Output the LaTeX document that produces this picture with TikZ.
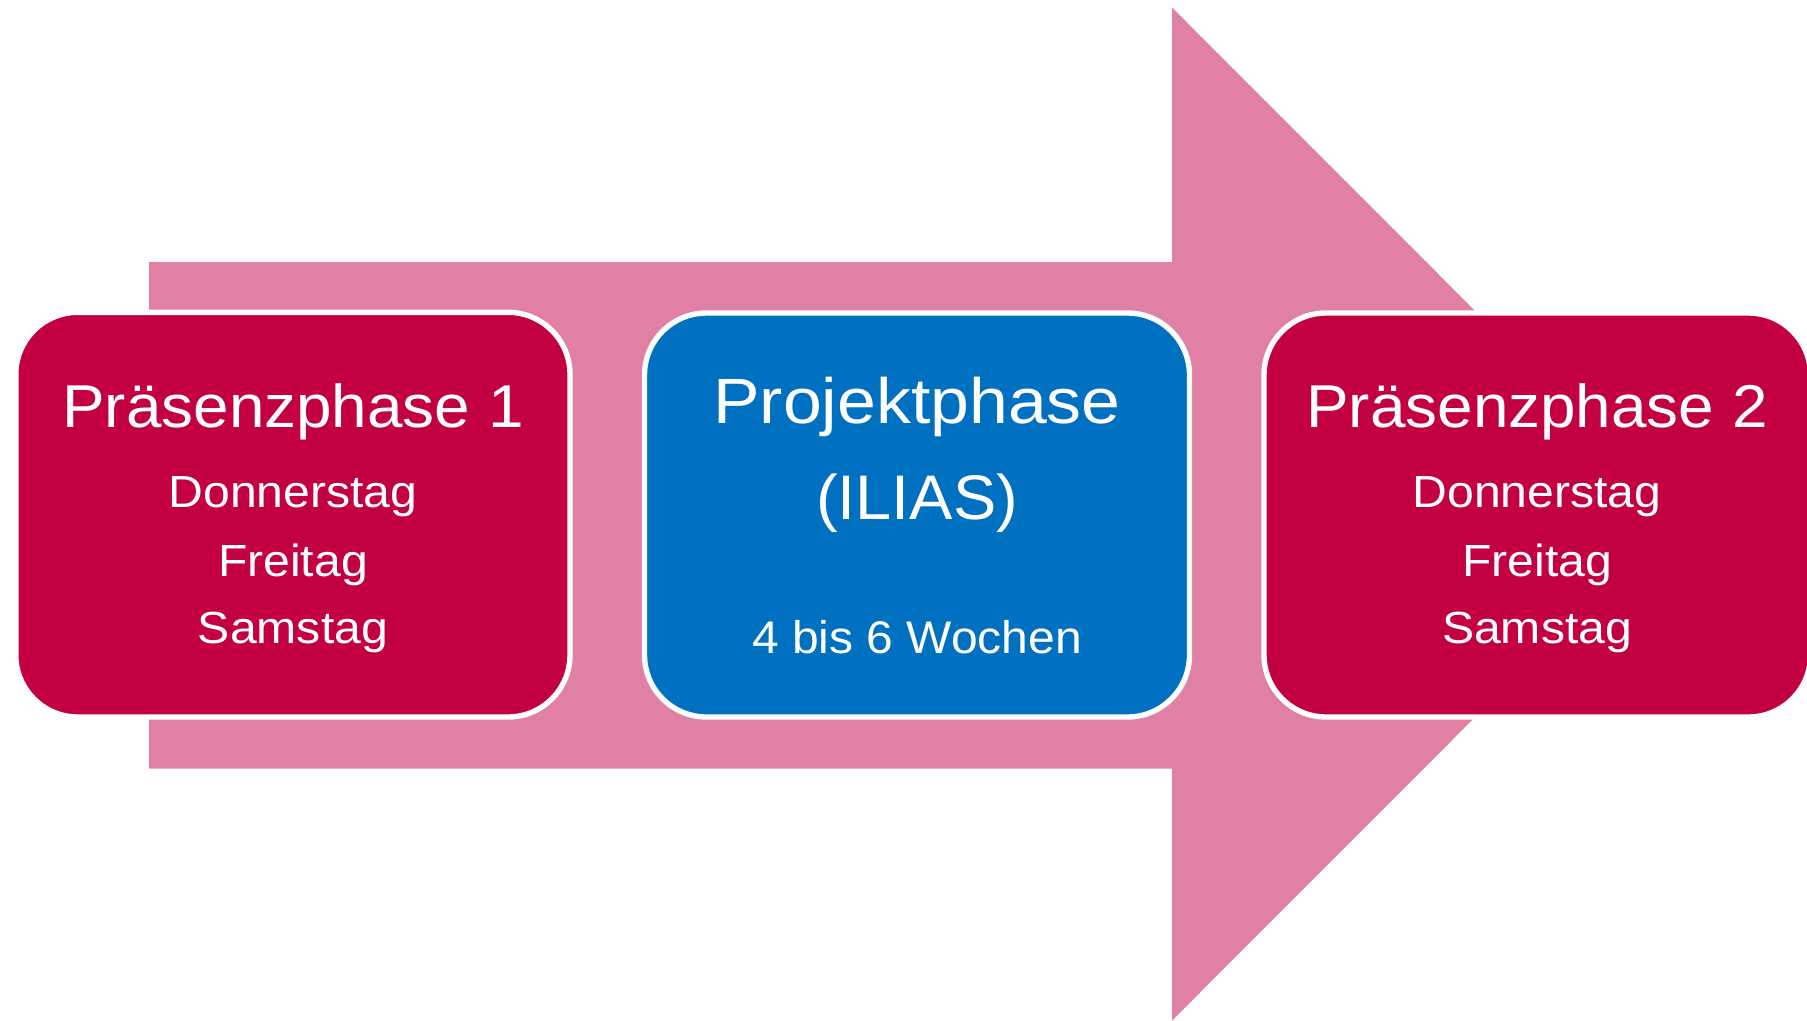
\documentclass[tikz,border=0pt]{standalone}
\usepackage{fontspec}
\setmainfont{Liberation Sans}
\definecolor{crim}{RGB}{195,0,64}
\definecolor{pinkarrow}{RGB}{224,128,164}
\definecolor{bluebox}{RGB}{0,112,192}
\tikzset{
  phasebox/.style={draw=white, line width=5.4pt, rounded corners=62pt},
  txt/.style={text=white, inner sep=0pt, anchor=base},
}
\newcommand{\hdtxt}[1]{\fontsize{60.5}{60.5}\selectfont\scalebox{1.055}[1]{#1}}
\newcommand{\daytxt}[1]{\fontsize{45}{45}\selectfont\scalebox{1.07}[1]{#1}}
\begin{document}
\begin{tikzpicture}[x=1pt,y=-1pt]
\useasboundingbox (0,0) rectangle (1807,1020);
\clip (0,0) rectangle (1807,1020);
% big arrow
\fill[pinkarrow] (149,262) -- (1172,262) -- (1172,7.5) -- (1678,514) -- (1172,1020.5) -- (1172,768.5) -- (149,768.5) -- cycle;
% boxes
\draw[phasebox, fill=crim] (15.8,312.3) rectangle (570,717);
\draw[phasebox, fill=bluebox] (644.5,313) rectangle (1189.5,717);
\draw[phasebox, fill=crim] (1264,313) rectangle (1810.5,717);
% box 1 text
\node[txt] (p1) at (293,427.5) {\hdtxt{Präsenzphase 1}};
\node[txt] (p1a) at (293,507) {\daytxt{Donnerstag}};
\node[txt] (p1b) at (293,576) {\daytxt{Freitag}};
\node[txt] (p1c) at (293,643) {\daytxt{Samstag}};
% box 2 text
\node[txt] (pp) at (917,423) {\fontsize{64}{64}\selectfont\scalebox{1.09}[1]{Projektphase}};
\node[txt] (pi) at (917,519.3) {\fontsize{63}{63}\selectfont\scalebox{1.03}[1]{(ILIAS)}};
\node[txt] (pw) at (917,653.3) {\fontsize{45.7}{45.7}\selectfont\scalebox{1.05}[1]{4 bis 6 Wochen}};
% box 3 text
\node[txt] (p2) at (1537,427.5) {\hdtxt{Präsenzphase 2}};
\node[txt] (p2a) at (1537,507) {\daytxt{Donnerstag}};
\node[txt] (p2b) at (1537,576) {\daytxt{Freitag}};
\node[txt] (p2c) at (1537,643) {\daytxt{Samstag}};
\end{tikzpicture}
\end{document}
